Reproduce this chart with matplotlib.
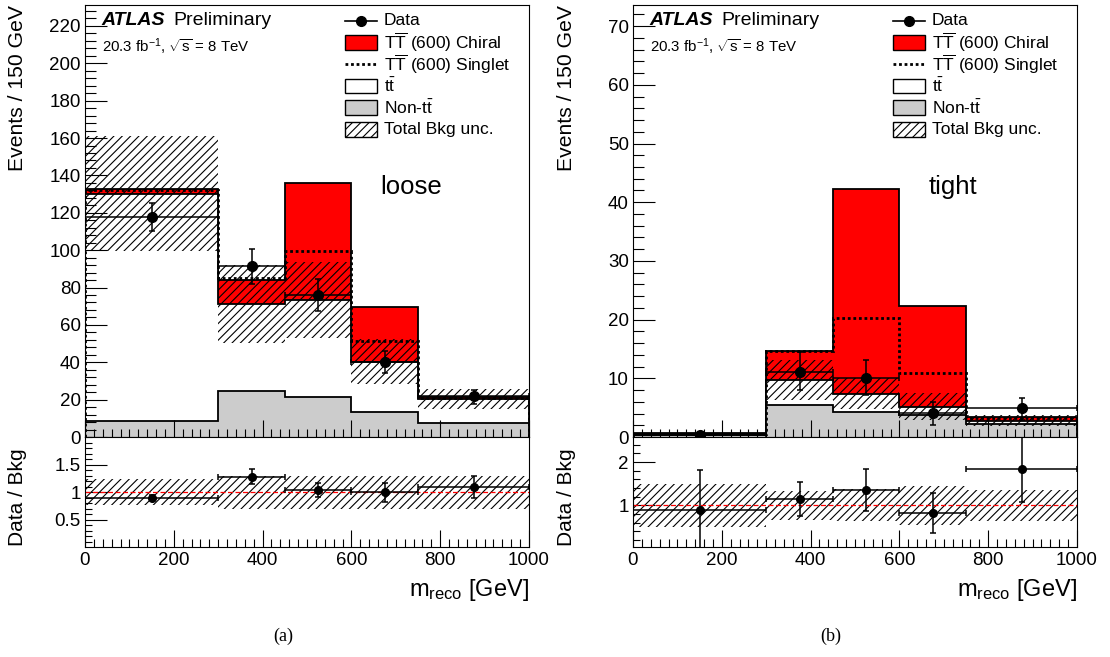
import numpy as np
import matplotlib
matplotlib.use("Agg")
import matplotlib.pyplot as plt
from matplotlib.ticker import MultipleLocator, FixedLocator, FuncFormatter
from matplotlib.lines import Line2D
from matplotlib.patches import Rectangle

plt.rcParams['font.family'] = ['Liberation Sans', 'DejaVu Sans']
plt.rcParams['mathtext.fontset'] = 'custom'
plt.rcParams['mathtext.rm'] = 'Liberation Sans'
plt.rcParams['mathtext.it'] = 'Liberation Sans:italic'
plt.rcParams['hatch.linewidth'] = 0.8

# binning (m_reco, GeV)
edges = [0, 300, 450, 600, 750, 1000]
centers = [150, 375, 525, 675, 875]

# ---- loose selection (a) ----
nontt_a = [8.6, 24.5, 21.4, 13.4, 7.5]
tt_a = [121.7, 46.6, 51.8, 26.9, 12.8]
chiral_a = [2.2, 12.8, 62.8, 29.3, 0.9]
singlet_a = [1.8, 14.1, 26.3, 11.3, 0.5]
unc_a = [31.0, 20.8, 20.2, 12.0, 5.4]
data_a = [118, 91.4, 76, 40.3, 22]
data_up_a = [7.4, 9.1, 8.5, 5.8, 3.0]
data_dn_a = [7.7, 9.4, 8.7, 6.3, 4.1]
ratio_a = [0.90, 1.28, 1.04, 1.00, 1.10]
ratio_err_a = [0.05, 0.14, 0.13, 0.17, 0.20]
band_a = [0.24, 0.30, 0.30, 0.30, 0.30]

# ---- tight selection (b) ----
nontt_b = [0.3, 5.45, 4.3, 3.75, 2.2]
tt_b = [0.15, 4.25, 3.1, 1.4, 0.6]
chiral_b = [0.15, 4.9, 34.9, 17.15, 0.65]
singlet_b = [0.1, 4.9, 12.8, 5.7, 0.4]
unc_b = [0.22, 3.4, 2.7, 2.3, 1.0]
data_b = [0.4, 11.1, 10.1, 4.15, 4.9]
data_up_b = [0.4, 3.4, 3.1, 1.85, 1.7]
data_dn_b = [0.4, 3.1, 2.95, 2.1, 2.0]
ratio_b = [0.90, 1.15, 1.36, 0.82, 1.84]
ratio_up_b = [0.92, 0.39, 0.49, 0.46, 0.75]
ratio_dn_b = [0.90, 0.40, 0.48, 0.46, 0.75]
band_b = [0.50, 0.33, 0.37, 0.45, 0.36]

legend_labels = ["Data", r"T$\overline{\mathrm{T}}$ (600) Chiral",
                 r"T$\overline{\mathrm{T}}$ (600) Singlet", r"t$\bar{\mathrm{t}}$",
                 r"Non-t$\bar{\mathrm{t}}$", "Total Bkg unc."]

W, H = 1110, 657
fig = plt.figure(figsize=(W / 100, H / 100), dpi=100)

halfw = np.diff(edges) / 2


def style_axes(ax, xmaj, ymaj_len, ymin_len):
    ax.set_xlim(0, 1000)
    ax.xaxis.set_major_locator(MultipleLocator(200))
    ax.xaxis.set_minor_locator(MultipleLocator(20))
    ax.tick_params(which='both', direction='in', top=False, right=False,
                   labelsize=13.5, width=0.8)
    ax.tick_params(axis='x', which='major', length=xmaj)
    ax.tick_params(axis='x', which='minor', length=xmaj / 2)
    ax.tick_params(axis='y', which='major', length=ymaj_len, pad=3)
    ax.tick_params(axis='y', which='minor', length=ymin_len)
    for s in ax.spines.values():
        s.set_linewidth(0.8)


def draw_panel(x0, nontt, tt, chiral, singlet, unc, data, dup, ddn,
               ratio, rup, rdn, band, ymax, ymaj, ymin, rlim, rticks, rminor,
               region, region_x, tag):
    left = x0 / W
    ax = fig.add_axes([left, 1 - 437 / H, 444 / W, 432 / H])
    rax = fig.add_axes([left, 1 - 547 / H, 444 / W, 110 / H])

    nontt = np.array(nontt)
    bkg = nontt + np.array(tt)
    top = bkg + np.array(chiral)
    sing = bkg + np.array(singlet)
    unc = np.array(unc)

    # stacked histograms, drawn ROOT-style from zero
    ax.stairs(top, edges, baseline=0, fill=True, facecolor='#ff0000',
              edgecolor='black', linewidth=1.3)
    ax.stairs(bkg, edges, baseline=0, fill=True, facecolor='white',
              edgecolor='black', linewidth=1.3)
    ax.stairs(nontt, edges, baseline=0, fill=True, facecolor='#cccccc',
              edgecolor='black', linewidth=1.3)
    ax.stairs(sing, edges, baseline=0, fill=False, edgecolor='black',
              linewidth=2.0, linestyle=(0, (1, 1)))
    ax.stairs(bkg + unc, edges, baseline=bkg - unc, fill=True,
              facecolor='none', edgecolor='black', linewidth=0, hatch='////')
    ax.errorbar(centers, data, xerr=halfw, yerr=[ddn, dup], fmt='o',
                color='black', markersize=7, elinewidth=1.1, capsize=2,
                capthick=1.1)

    ax.set_ylim(0, ymax)
    style_axes(ax, 12, 16, 8)
    ax.yaxis.set_major_locator(MultipleLocator(ymaj))
    ax.yaxis.set_minor_locator(MultipleLocator(ymin))
    ax.tick_params(axis='x', labelbottom=False)

    # labels
    ax.text(0.038, 0.965, "ATLAS", transform=ax.transAxes, fontsize=14,
            fontweight='bold', fontstyle='italic', va='center', ha='left')
    ax.text(0.198, 0.965, "Preliminary", transform=ax.transAxes, fontsize=14,
            va='center', ha='left')
    ax.text(0.038, 0.903, r"20.3 fb$^{-1}$, $\sqrt{\mathrm{s}}$ = 8 TeV",
            transform=ax.transAxes, fontsize=10.8, va='center', ha='left')
    ax.text(region_x, 0.579, region, transform=ax.transAxes, fontsize=18.5,
            va='center', ha='center')

    # legend, drawn by hand
    rows = [0.963, 0.9135, 0.863, 0.8125, 0.762, 0.7115]
    bx0, bx1, tx = 0.5856, 0.6577, 0.673
    bh = 0.034
    ax.add_line(Line2D([bx0, bx1], [rows[0]] * 2, color='black', lw=1.2,
                       transform=ax.transAxes))
    ax.plot([(bx0 + bx1) / 2], [rows[0]], 'o', color='black', markersize=7,
            transform=ax.transAxes)
    ax.add_patch(Rectangle((bx0, rows[1] - bh / 2), bx1 - bx0, bh,
                           facecolor='#ff0000', edgecolor='black', lw=1.0,
                           transform=ax.transAxes))
    ax.add_line(Line2D([bx0, bx1], [rows[2]] * 2, color='black', lw=2.0,
                       linestyle=(0, (1, 1)), transform=ax.transAxes))
    ax.add_patch(Rectangle((bx0, rows[3] - bh / 2), bx1 - bx0, bh,
                           facecolor='white', edgecolor='black', lw=1.0,
                           transform=ax.transAxes))
    ax.add_patch(Rectangle((bx0, rows[4] - bh / 2), bx1 - bx0, bh,
                           facecolor='#cccccc', edgecolor='black', lw=1.0,
                           transform=ax.transAxes))
    ax.add_patch(Rectangle((bx0, rows[5] - bh / 2), bx1 - bx0, bh,
                           facecolor='none', edgecolor='black', lw=1.0,
                           hatch='////', transform=ax.transAxes))
    for r, lab in zip(rows, legend_labels):
        ax.text(tx, r, lab, transform=ax.transAxes, fontsize=12.5,
                va='center', ha='left')

    # ratio panel
    band = np.array(band)
    rax.stairs(1 + band, edges, baseline=1 - band, fill=True,
               facecolor='none', edgecolor='black', linewidth=0, hatch='////')
    rax.axhline(1, color='red', lw=0.9, linestyle=(0, (4, 2)))
    rax.errorbar(centers, ratio, xerr=halfw, yerr=[rdn, rup], fmt='o',
                 color='black', markersize=5.5, elinewidth=1.1, capsize=2,
                 capthick=1.1)
    rax.set_ylim(*rlim)
    style_axes(rax, 12, 16, 5)
    rax.yaxis.set_major_locator(FixedLocator(rticks))
    rax.yaxis.set_minor_locator(MultipleLocator(rminor))
    rax.yaxis.set_major_formatter(FuncFormatter(lambda v, p: "%g" % v))

    fig.text((x0 - 67) / W, 1 - 5 / H, "Events / 150 GeV", rotation=90,
             ha='center', va='top', fontsize=15.2)
    fig.text((x0 - 67) / W, 1 - 497 / H, "Data / Bkg", rotation=90,
             ha='center', va='center', fontsize=15)
    fig.text((x0 + 444) / W, 1 - 590 / H, r"m$_{\mathrm{reco}}$ [GeV]",
             ha='right', va='center', fontsize=17)
    fig.text((x0 + 198) / W, 1 - 636 / H, tag, ha='center', va='center',
             fontsize=13, family='Liberation Serif')


draw_panel(85, nontt_a, tt_a, chiral_a, singlet_a, unc_a, data_a, data_up_a,
           data_dn_a, ratio_a, ratio_err_a, ratio_err_a, band_a,
           231.2, 20, 4, (0.005, 2.0), [0.5, 1.0, 1.5], 0.1,
           "loose", 0.734, "(a)")
draw_panel(633, nontt_b, tt_b, chiral_b, singlet_b, unc_b, data_b, data_up_b,
           data_dn_b, ratio_b, ratio_up_b, ratio_dn_b, band_b,
           73.6, 10, 2, (0.04, 2.58), [1.0, 2.0], 0.2,
           "tight", 0.72, "(b)")

fig.savefig("out.png", dpi=100)
